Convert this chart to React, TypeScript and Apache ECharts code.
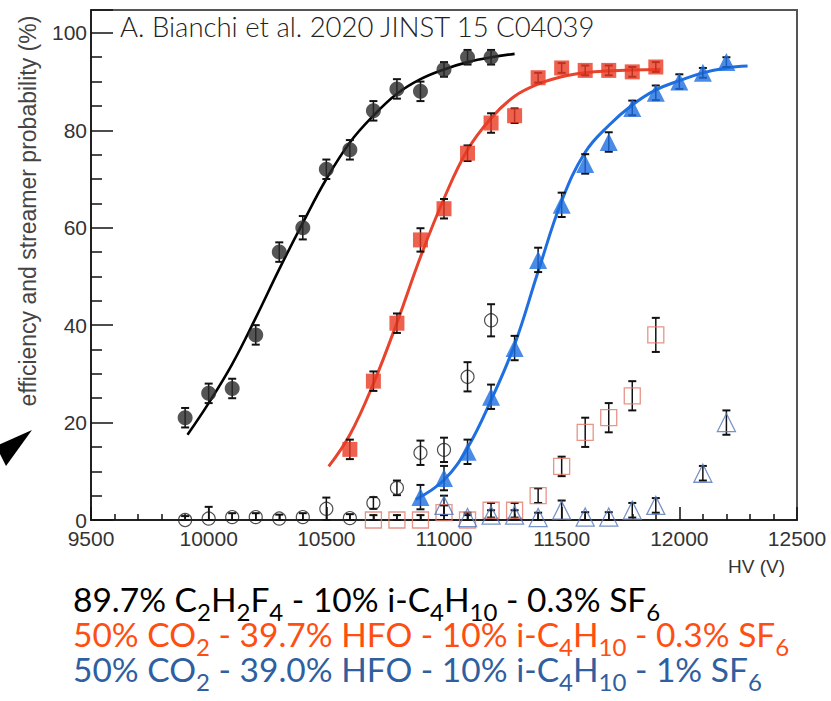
import React, { useEffect, useRef } from "react";
import * as echarts from "echarts";

// Efficiency (filled) and streamer probability (open) vs HV for three gas mixtures
const hvBlack = [9900, 10000, 10100, 10200, 10300, 10400, 10500, 10600, 10700, 10800, 10900, 11000, 11100, 11200];
const effBlack = [21, 26, 27, 38, 55, 60, 72, 76, 84, 88.5, 88, 92.5, 95, 95];
const effBlackErr = [2, 2, 2, 2, 2, 2.4, 2, 2, 2, 2, 2, 1.5, 1.5, 1.5];
const strBlack = [0, 0.3, 0.6, 0.6, 0.3, 0.6, 2.3, 0.4, 3.5, 6.6, 13.8, 14.4, 29.4, 41];
const strBlackErr = [0.8, 2.4, 0.8, 0.8, 0.8, 0.8, 2.3, 0.8, 1.2, 1.5, 2.5, 2.5, 3, 3.3];

const hvRed = [10600, 10700, 10800, 10900, 11000, 11100, 11200, 11300, 11400, 11500, 11600, 11700, 11800, 11900];
const effRed = [14.5, 28.5, 40.4, 57.5, 63.9, 75.3, 81.5, 83, 90.8, 92.8, 92.3, 92.3, 92, 93];
const effRedErr = [2, 2, 2, 2.4, 2, 1.6, 2, 1.5, 1, 1, 1, 1, 1, 1];
const hvRedStr = [10700, 10800, 10900, 11000, 11100, 11200, 11300, 11400, 11500, 11600, 11700, 11800, 11900];
const strRed = [0, 0, 0, 1.5, 0, 2, 2, 5, 11, 18, 21, 25.5, 38];
const strRedErr = [1, 1, 1, 1.5, 1, 1.5, 1.5, 1.5, 2, 3, 3, 3, 3.5];

const hvBlue = [10900, 11000, 11100, 11200, 11300, 11400, 11500, 11600, 11700, 11800, 11900, 12000, 12100, 12200];
const effBlue = [4.7, 8.6, 14, 25.3, 35.3, 53.4, 64.7, 73.1, 77.6, 84.6, 87.7, 90, 91.8, 94];
const effBlueErr = [2.5, 2.5, 2.5, 2.5, 2.5, 2.5, 2.5, 2, 2, 1.5, 1.5, 1.5, 1, 1];
const hvBlueStr = [11000, 11100, 11200, 11300, 11400, 11500, 11600, 11700, 11800, 11900, 12100, 12200];
const strBlue = [3, 0.5, 1, 1, 0.5, 2, 0.6, 0.6, 2, 3, 9.6, 20];
const strBlueErr = [2, 1, 1, 1, 1, 2, 1, 1, 1.5, 1.5, 1.5, 2.5];

// Fitted efficiency curves
const hvFitBlack = [9910, 10000, 10100, 10200, 10300, 10400, 10500, 10600, 10700, 10800, 10900, 11000, 11100, 11200, 11300];
const fitBlack = [17.5, 24, 32, 41.5, 51.5, 61, 70, 77.5, 83, 87.5, 90.5, 92.5, 94, 95, 95.7];
const hvFitRed = [10510, 10600, 10700, 10800, 10900, 11000, 11100, 11200, 11300, 11400, 11500, 11600, 11700, 11800, 11920];
const fitRed = [11, 17.5, 28, 40.5, 54, 66, 76, 82.5, 87, 89.5, 91, 91.8, 92.2, 92.4, 92.5];
const hvFitBlue = [10880, 11000, 11100, 11200, 11300, 11400, 11500, 11600, 11700, 11800, 11900, 12000, 12100, 12200, 12290];
const fitBlue = [4.2, 8.2, 14.8, 24.6, 36, 51, 65.5, 75.5, 81, 85.2, 88.3, 90.2, 91.8, 92.8, 93.2];

const xTicks = { min: 9500, max: 12500, step: 500 };
const yTicks = { min: 0, max: 104.7, step: 20 };

const zip = (xs: number[], ys: number[]) => xs.map((x, i) => [x, ys[i]]);
const zip3 = (xs: number[], ys: number[], es: number[]) => xs.map((x, i) => [x, ys[i], es[i]]);

const AXIS_FONT = '"Liberation Sans", Arial, sans-serif';

function errorBars(name: string, data: number[][]) {
  return {
    type: "custom",
    name,
    z: 3,
    encode: { x: 0, y: 1 },
    data,
    renderItem: (_p: any, api: any) => {
      const x = api.value(0);
      const y = api.value(1);
      const e = api.value(2);
      const lo = api.coord([x, Math.max(0, y - e)]);
      const hi = api.coord([x, y + e]);
      const cw = 4;
      const st = { stroke: "#111", lineWidth: 1.5 };
      const cap = { stroke: "#111", lineWidth: 2 };
      return {
        type: "group",
        children: [
          { type: "line", shape: { x1: lo[0], y1: lo[1], x2: hi[0], y2: hi[1] }, style: st },
          { type: "line", shape: { x1: hi[0] - cw, y1: hi[1], x2: hi[0] + cw, y2: hi[1] }, style: cap },
          { type: "line", shape: { x1: lo[0] - cw, y1: lo[1], x2: lo[0] + cw, y2: lo[1] }, style: cap },
        ],
      };
    },
  };
}

const legendLines = [
  { text: "{m|89.7% C}{s|2}{m|H}{s|2}{m|F}{s|4}{m| - 10% i-C}{s|4}{m|H}{s|10}{m| - 0.3% SF}{s|6}", color: "#000000", top: 582 },
  { text: "{m|50% CO}{s|2}{m| - 39.7% HFO - 10% i-C}{s|4}{m|H}{s|10}{m| - 0.3% SF}{s|6}", color: "#FF4E12", top: 617 },
  { text: "{m|50% CO}{s|2}{m| - 39.0% HFO - 10% i-C}{s|4}{m|H}{s|10}{m| - 1% SF}{s|6}", color: "#2F5FA0", top: 652 },
];

export default function App() {
  const ref = useRef<HTMLDivElement>(null);

  useEffect(() => {
    if (!ref.current) return;
    const chart = echarts.init(ref.current, undefined, { renderer: "svg" });

    const rich = {
      m: { font: '33.5px Lato', fontSize: 33.5, fontFamily: "Lato", verticalAlign: "top", lineHeight: 34 },
      s: { font: '24px Lato', fontSize: 24, fontFamily: "Lato", verticalAlign: "top", lineHeight: 24, padding: [17, 0, 0, 0] },
    };

    chart.setOption({
      animation: false,
      backgroundColor: "#ffffff",
      grid: {
        left: 91,
        right: 34,
        top: 10,
        bottom: 181,
        show: true,
        borderColor: "#555555",
        borderWidth: 2,
        containLabel: false,
      },
      xAxis: {
        type: "value",
        min: xTicks.min,
        max: xTicks.max,
        interval: xTicks.step,
        axisLine: { show: true, onZero: false, lineStyle: { color: "#111", width: 1.5 } },
        axisTick: { show: true, inside: true, length: 13, lineStyle: { color: "#111", width: 1.5 } },
        minorTick: { show: true, splitNumber: 5, length: 6, lineStyle: { color: "#111", width: 1.5 } },
        splitLine: { show: false },
        axisLabel: { margin: 8, fontSize: 21, fontFamily: AXIS_FONT, color: "#333", formatter: (v: number) => String(v) },
      },
      yAxis: {
        type: "value",
        min: yTicks.min,
        max: yTicks.max,
        interval: yTicks.step,
        axisLine: { show: true, lineStyle: { color: "#111", width: 1.5 } },
        axisTick: { show: true, inside: true, length: 22, lineStyle: { color: "#111", width: 1.5 } },
        minorTick: { show: true, splitNumber: 4, length: 11, lineStyle: { color: "#111", width: 1.5 } },
        splitLine: { show: false },
        axisLabel: {
          margin: 4,
          fontSize: 21,
          fontFamily: AXIS_FONT,
          color: "#333",
          formatter: (v: number) => (Math.abs(v % yTicks.step) < 1e-6 ? String(v) : ""),
        },
      },
      series: [
        {
          type: "line", name: "fit 1", data: zip(hvFitBlack, fitBlack), smooth: 0.4, symbol: "none", z: 2,
          lineStyle: { color: "#000000", width: 2.6 },
        },
        {
          type: "line", name: "fit 2", data: zip(hvFitRed, fitRed), smooth: 0.4, symbol: "none", z: 2,
          lineStyle: { color: "#E8432D", width: 3 },
        },
        {
          type: "line", name: "fit 3", data: zip(hvFitBlue, fitBlue), smooth: 0.4, symbol: "none", z: 2,
          lineStyle: { color: "#1F6FE0", width: 3 },
        },
        errorBars("err eff 1", zip3(hvBlack, effBlack, effBlackErr)),
        errorBars("err eff 2", zip3(hvRed, effRed, effRedErr)),
        errorBars("err eff 3", zip3(hvBlue, effBlue, effBlueErr)),
        errorBars("err str 1", zip3(hvBlack, strBlack, strBlackErr)),
        errorBars("err str 2", zip3(hvRedStr, strRed, strRedErr)),
        errorBars("err str 3", zip3(hvBlueStr, strBlue, strBlueErr)),
        {
          type: "scatter", name: "eff 1", data: zip(hvBlack, effBlack), symbol: "circle", symbolSize: 15, z: 4,
          itemStyle: { color: "#2b2b2b" },
        },
        {
          type: "scatter", name: "eff 2", data: zip(hvRed, effRed), symbol: "rect", symbolSize: 15, z: 4,
          itemStyle: { color: "#EA3A22" },
        },
        {
          type: "scatter", name: "eff 3", data: zip(hvBlue, effBlue), symbol: "triangle", symbolSize: 18, z: 4,
          itemStyle: { color: "#1C6EE0" },
        },
        {
          type: "scatter", name: "str 1", data: zip(hvBlack, strBlack), symbol: "circle", symbolSize: 13, z: 4,
          itemStyle: { color: "rgba(0,0,0,0)", borderColor: "#222", borderWidth: 1.2 },
        },
        {
          type: "scatter", name: "str 2", data: zip(hvRedStr, strRed), symbol: "rect", symbolSize: 16, z: 4,
          itemStyle: { color: "rgba(0,0,0,0)", borderColor: "#E07A6A", borderWidth: 1.3 },
        },
        {
          type: "scatter", name: "str 3", data: zip(hvBlueStr, strBlue), symbol: "triangle", symbolSize: 18, z: 4,
          itemStyle: { color: "rgba(0,0,0,0)", borderColor: "#5577B8", borderWidth: 1.3 },
        },
      ],
      graphic: [
        {
          type: "text", x: 120, y: 26, z: 10,
          style: { text: "A. Bianchi et al. 2020 JINST 15 C04039", font: '300 27.5px Lato', fill: "#222", verticalAlign: "middle" },
        },
        {
          type: "text", x: 28, y: 211, rotation: Math.PI / 2,
          style: { text: "efficiency and streamer probability (%)", font: '23px "Liberation Sans"', fill: "#444", align: "center", verticalAlign: "middle" },
        },
        {
          type: "text", x: 785, y: 566,
          style: { text: "HV (V)", font: '19px "Liberation Sans"', fill: "#333", align: "right", verticalAlign: "middle" },
        },
        {
          type: "polygon",
          shape: { points: [[-4, 446], [32, 430], [6, 466]] },
          style: { fill: "#000" },
        },
        ...legendLines.map((l) => ({
          type: "text", x: 73, y: l.top,
          style: { text: l.text, fill: l.color, font: '33.5px Lato', verticalAlign: "top", rich },
        })),
      ],
    });

    return () => chart.dispose();
  }, []);

  return <div ref={ref} style={{ position: "absolute", left: 0, top: 0, width: 831, height: 701 }} />;
}
